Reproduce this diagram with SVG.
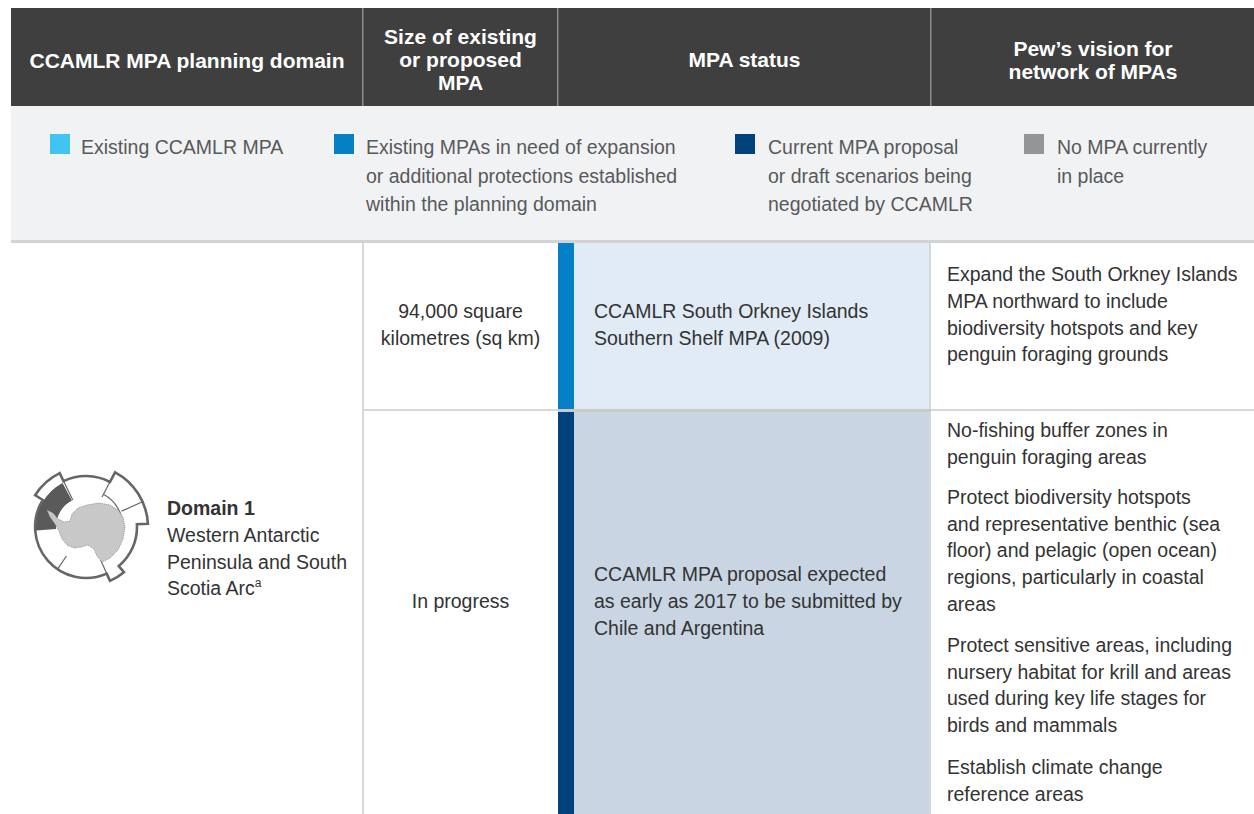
<svg xmlns="http://www.w3.org/2000/svg" width="1254" height="814" viewBox="0 0 1254 814">
<style>
.hd{font-family:"Liberation Sans",Arial,sans-serif;font-weight:bold;font-size:21px;fill:#ffffff;text-anchor:middle}
.lg{font-family:"Liberation Sans",Arial,sans-serif;font-size:19.5px;fill:#58595b}
.bd{font-family:"Liberation Sans",Arial,sans-serif;font-size:19.5px;fill:#333333}
.c{text-anchor:middle}
.b{font-weight:bold}
.thin{stroke:#666666;stroke-width:1.2;fill:none}
</style>
<rect width="1254" height="814" fill="#ffffff"/>
<g id="header">
<rect x="11" y="8" width="1243" height="98" fill="#3f3f3f"/>
<rect x="362" y="8" width="1.5" height="98" fill="#8c8c8c"/>
<rect x="557" y="8" width="1.5" height="98" fill="#8c8c8c"/>
<rect x="930" y="8" width="1.5" height="98" fill="#8c8c8c"/>
<text class="hd" x="187" y="68">CCAMLR MPA planning domain</text>
<text class="hd" x="460.5" y="44">Size of existing</text>
<text class="hd" x="460.5" y="67">or proposed</text>
<text class="hd" x="460.5" y="90">MPA</text>
<text class="hd" x="744.5" y="67">MPA status</text>
<text class="hd" x="1093" y="56">Pew’s vision for</text>
<text class="hd" x="1093" y="79">network of MPAs</text>
</g>
<g id="legend">
<rect x="11" y="106" width="1243" height="134" fill="#f1f2f4"/>
<g id="legend-existing">
<rect x="50" y="134" width="20" height="20" fill="#3fc5f0"/>
<text class="lg" x="81" y="154">Existing CCAMLR MPA</text>
</g>
<g id="legend-expansion">
<rect x="334" y="134" width="20" height="20" fill="#0580c6"/>
<text class="lg" x="366" y="154">Existing MPAs in need of expansion</text>
<text class="lg" x="366" y="182.5">or additional protections established</text>
<text class="lg" x="366" y="211">within the planning domain</text>
</g>
<g id="legend-proposal">
<rect x="735" y="134" width="20" height="20" fill="#02427c"/>
<text class="lg" x="768" y="154">Current MPA proposal</text>
<text class="lg" x="768" y="182.5">or draft scenarios being</text>
<text class="lg" x="768" y="211">negotiated by CCAMLR</text>
</g>
<g id="legend-none">
<rect x="1024" y="134" width="20" height="20" fill="#939598"/>
<text class="lg" x="1057" y="154">No MPA currently</text>
<text class="lg" x="1057" y="182.5">in place</text>
</g>
</g>
<g id="connectors">
<rect x="11" y="240" width="1243" height="3" fill="#d1d3d4"/>
<rect x="362" y="243" width="2" height="571" fill="#d9d9d9"/>
<rect x="364" y="409" width="194" height="2" fill="#d9d9d9"/>
<rect x="931" y="409" width="323" height="2" fill="#d9d9d9"/>
</g>
<g id="domain1">
<path d="M42.8,500 L35.1,495.2 A60,60 0 0 1 59.7,473.1 L63.6,481.2 A51,51 0 0 1 109.9,482 L115.1,472.3 A62,62 0 0 1 147.9,523.8 L136.9,524.3 A51,51 0 0 1 118.8,566.1 L123.9,572.2 A59,59 0 0 1 110,580.9 L106.7,573.6 A51,51 0 0 1 42.8,500 Z" fill="#ffffff" stroke="#666666" stroke-width="2.6" stroke-linejoin="miter"/>
<path d="M36.1,530.5 A50,50 0 0 1 62.5,482.9 L71.9,500.5 A30,30 0 0 0 56.1,529.1 Z" fill="#5a5a5a"/>
<path d="M72.8,500 L63.6,481.2 M102,497 L109.9,482 M103.4,494.3 A37,37 0 0 1 123,528.3 M121.6,511.1 L142.6,501.8 M66.4,556 L57.5,569.3 M100.6,559.9 L106.7,573.6" class="thin"/>
<path d="M47,510 L53,513 L58,519 L64,522 L70,521 L72,514 L78,508 L87,505 L99,503 L110,505 L118,510 L123,517 L125,527 L123,539 L118,550 L110,558 L102,562 L97,556 L94,549 L88,545 L81,547 L74,548 L67,545 L62,539 L59,531 L55,524 L50,517 Z" fill="#c8c8c8" stroke="#8a8a8a" stroke-width="0.8" stroke-dasharray="1.2 0.8"/>
<text class="bd b" x="167" y="515">Domain 1</text>
<text class="bd" x="167" y="542">Western Antarctic</text>
<text class="bd" x="167" y="568.7">Peninsula and South</text>
<text class="bd" x="167" y="595.4">Scotia Arc<tspan font-size="12" dy="-8">a</tspan></text>
</g>
<g id="size-south-orkney">
<text class="bd c" x="460.5" y="318">94,000 square</text>
<text class="bd c" x="460.5" y="345">kilometres (sq km)</text>
</g>
<g id="status-south-orkney">
<rect x="558" y="243" width="16" height="166" fill="#0580c6"/>
<rect x="574" y="243" width="356" height="166" fill="#e1ebf5"/>
<rect x="929" y="243" width="2" height="166" fill="#d3d8de"/>
<text class="bd" x="594" y="318">CCAMLR South Orkney Islands</text>
<text class="bd" x="594" y="345">Southern Shelf MPA (2009)</text>
</g>
<g id="vision-south-orkney">
<text class="bd" x="947" y="281">Expand the South Orkney Islands</text>
<text class="bd" x="947" y="308">MPA northward to include</text>
<text class="bd" x="947" y="334.5">biodiversity hotspots and key</text>
<text class="bd" x="947" y="361">penguin foraging grounds</text>
</g>
<g id="size-peninsula">
<text class="bd c" x="460.5" y="608">In progress</text>
</g>
<g id="status-peninsula">
<rect x="558" y="409" width="373" height="3" fill="#c9c9c9"/>
<rect x="558" y="412" width="16" height="402" fill="#02427c"/>
<rect x="574" y="412" width="356" height="402" fill="#c9d5e3"/>
<rect x="929" y="412" width="2" height="402" fill="#d3d8de"/>
<text class="bd" x="594" y="581">CCAMLR MPA proposal expected</text>
<text class="bd" x="594" y="608">as early as 2017 to be submitted by</text>
<text class="bd" x="594" y="634.7">Chile and Argentina</text>
</g>
<g id="vision-peninsula">
<text class="bd" x="947" y="437">No-fishing buffer zones in</text>
<text class="bd" x="947" y="463.7">penguin foraging areas</text>
<text class="bd" x="947" y="504">Protect biodiversity hotspots</text>
<text class="bd" x="947" y="530.7">and representative benthic (sea</text>
<text class="bd" x="947" y="557.4">floor) and pelagic (open ocean)</text>
<text class="bd" x="947" y="584">regions, particularly in coastal</text>
<text class="bd" x="947" y="610.8">areas</text>
<text class="bd" x="947" y="652">Protect sensitive areas, including</text>
<text class="bd" x="947" y="678.7">nursery habitat for krill and areas</text>
<text class="bd" x="947" y="705.4">used during key life stages for</text>
<text class="bd" x="947" y="732">birds and mammals</text>
<text class="bd" x="947" y="774">Establish climate change</text>
<text class="bd" x="947" y="800.7">reference areas</text>
</g>
</svg>
